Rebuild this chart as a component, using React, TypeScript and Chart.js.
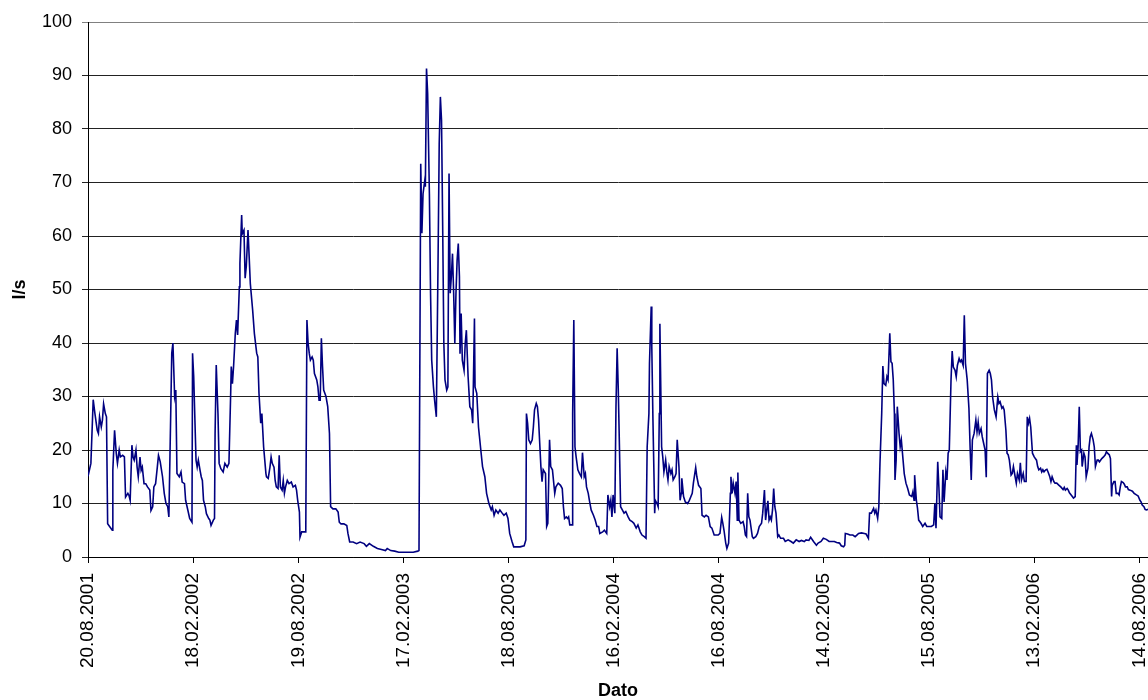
import React, { useEffect, useRef } from "react";
import { Chart, registerables } from "chart.js";

Chart.register(...registerables);

// days counted from 20.08.2001, flow in l/s
const readings: [number, number][] = [
  [0, 15.1], [5, 17.5], [9, 29.4], [12, 26.8], [16, 23.7], [18, 23.1], [20, 26.2], [23, 24.3], [25, 25.6], [27, 28.6],
  [30, 26.8], [32, 26.2], [34, 6.2], [38, 5.6], [42, 5.0], [43, 16.2], [46, 23.7], [49, 19.3], [51, 17.5], [54, 20.0],
  [56, 18.7], [60, 19.0], [63, 18.7], [65, 11.2], [69, 11.9], [71, 11.5], [73, 10.6], [76, 20.9], [78, 18.7], [80, 18.1],
  [83, 20.0], [85, 16.8], [87, 15.0], [90, 18.7], [92, 16.2], [94, 16.8], [97, 13.7], [100, 13.7], [103, 13.1], [107, 12.5],
  [109, 8.7], [112, 9.4], [114, 13.1], [117, 13.7], [120, 16.8], [122, 19.0], [125, 17.8], [129, 15.0], [132, 11.9], [135, 10.0],
  [138, 9.4], [140, 7.5], [143, 25.6], [145, 38.1], [147, 40.0], [150, 30.0], [152, 31.2], [154, 15.6], [158, 15.0], [161, 15.9],
  [163, 14.0], [167, 13.7], [169, 10.6], [173, 8.7], [176, 7.2], [180, 6.5], [181, 38.1], [183, 33.7], [187, 18.1], [189, 16.8],
  [191, 18.1], [194, 16.2], [196, 15.0], [198, 14.3], [200, 10.6], [203, 9.4], [205, 8.1], [209, 7.2], [211, 6.9], [213, 5.9],
  [217, 6.9], [219, 7.2], [220, 23.1], [222, 35.9], [225, 26.8], [227, 17.5], [230, 16.5], [234, 15.9], [237, 17.5], [241, 16.8],
  [244, 17.5], [247, 30.6], [248, 35.6], [250, 32.4], [252, 35.6], [255, 41.8], [257, 44.3], [259, 41.5], [262, 50.5], [263, 54.9],
  [266, 63.9], [267, 60.4], [270, 61.1], [272, 52.1], [274, 54.3], [277, 61.1], [279, 56.1], [281, 51.1], [285, 46.2], [288, 41.8],
  [292, 38.1], [294, 37.4], [296, 30.6], [299, 25.0], [301, 26.8], [304, 20.6], [308, 15.6],
  [309, 15.0], [312, 14.7], [315, 16.8], [317, 18.7], [319, 17.5], [322, 16.8], [324, 14.3], [326, 13.1], [329, 12.8], [331, 19.0],
  [333, 13.1], [336, 12.5], [338, 14.3], [340, 11.9], [342, 13.1], [345, 14.3], [348, 13.7], [352, 14.0], [355, 13.1], [359, 13.4],
  [361, 12.5], [363, 10.6], [366, 8.4], [367, 3.7], [370, 4.7], [374, 4.7], [377, 4.7], [379, 44.3], [381, 40.0], [383, 38.1],
  [385, 36.8], [388, 37.4], [390, 36.8], [392, 34.3], [396, 33.1], [398, 31.8], [400, 29.3], [402, 29.3], [404, 40.9], [406, 35.6],
  [408, 31.2], [412, 30.0], [415, 28.1], [418, 23.1], [420, 9.4], [424, 9.0], [429, 9.0], [433, 8.4], [435, 6.5], [438, 6.2],
  [443, 6.2], [448, 5.9], [450, 4.4], [453, 2.8], [459, 2.8], [465, 2.5], [471, 2.8], [478, 2.5], [482, 2.0], [487, 2.5],
  [494, 2.0], [501, 1.6], [508, 1.4], [515, 1.2], [518, 1.6], [524, 1.2], [531, 1.1], [538, 0.9], [546, 0.9], [554, 0.9],
  [563, 0.9], [571, 1.1],
  [573, 1.2], [576, 73.5], [578, 60.5], [580, 67.9], [583, 70.4], [584, 69.2], [586, 91.3], [588, 86.6], [591, 67.9], [593, 49.3],
  [595, 36.8], [598, 31.8], [600, 29.3], [603, 26.2], [606, 55.5], [608, 77.3], [610, 86.0], [612, 81.6], [614, 61.7], [616, 39.9],
  [618, 33.1], [621, 31.2], [623, 31.8], [625, 71.7], [627, 49.3], [629, 52.4], [631, 56.7], [633, 49.3], [635, 39.9], [637, 49.3],
  [639, 55.5], [641, 58.6], [643, 52.4], [644, 38.0], [646, 45.5], [648, 36.8], [651, 34.9], [653, 39.9], [655, 42.4], [658, 33.7],
  [661, 28.1], [664, 27.5], [666, 25.0], [669, 44.6], [670, 31.8], [673, 30.6], [676, 24.3], [680, 20.0], [683, 16.9], [687, 15.0],
  [690, 11.9], [694, 10.0], [696, 9.4], [698, 8.8], [700, 9.4], [703, 7.8], [706, 8.8], [710, 8.2], [713, 8.8], [717, 8.2],
  [720, 7.8], [724, 8.2], [727, 7.2], [730, 4.4], [734, 2.9], [737, 1.9], [742, 1.9], [748, 1.9], [755, 2.1], [758, 3.2],
  [759, 26.8], [761, 25.0], [763, 21.9], [766, 21.2], [769, 21.9], [771, 24.3], [773, 27.5], [776, 28.7], [778, 28.1], [780, 25.6],
  [784, 16.9], [786, 14.1], [788, 16.3], [792, 15.6], [794, 5.7], [796, 6.3], [799, 21.9], [801, 16.9], [804, 16.3], [808, 11.9],
  [810, 13.1], [814, 13.8], [818, 13.4], [821, 12.8], [823, 9.4], [825, 7.2], [828, 7.5], [830, 7.2], [832, 7.5], [834, 6.0],
  [838, 6.0], [839, 26.8], [841, 44.3], [843, 20.6], [845, 18.7], [848, 16.3], [851, 15.6], [854, 15.0], [856, 19.5], [859, 15.0],
  [861, 15.6], [863, 13.1], [866, 11.9], [868, 10.6], [871, 8.8], [875, 7.8], [878, 6.9], [881, 5.7], [884, 5.7], [886, 4.4],
  [891, 4.7], [894, 5.0], [898, 4.4], [900, 11.6], [903, 9.4], [905, 10.6], [907, 7.5], [909, 11.6], [912, 8.2], [914, 28.1],
  [916, 39.0], [918, 31.2], [920, 20.6], [922, 9.4], [925, 8.8], [928, 8.2], [931, 8.5], [935, 7.5], [938, 6.9], [942, 6.6],
  [945, 6.3], [949, 5.4], [952, 6.0], [956, 4.7], [959, 4.1], [963, 3.8], [966, 3.5], [968, 20.6], [971, 26.8], [972, 36.2],
  [975, 46.8], [976, 39.3], [978, 25.6], [981, 8.2], [982, 10.6], [985, 10.0], [987, 9.4], [989, 26.8], [990, 43.6], [993, 20.6],
  [995, 18.7], [997, 15.9], [1000, 18.1], [1002, 15.9], [1004, 14.4], [1006, 16.9], [1009, 15.6], [1011, 16.3], [1013, 14.4], [1016, 15.0],
  [1018, 15.6], [1020, 21.9], [1023, 16.9], [1025, 10.6], [1027, 11.9], [1028, 14.7], [1031, 11.3], [1034, 10.3], [1038, 10.0], [1041, 10.6],
  [1046, 11.9], [1048, 13.8], [1052, 16.7], [1054, 15.0], [1057, 13.4], [1061, 12.8], [1063, 7.8], [1067, 7.5], [1070, 7.8], [1074, 7.5],
  [1077, 5.7], [1080, 5.4], [1084, 4.1], [1087, 4.1], [1091, 4.1], [1094, 4.4], [1097, 7.4], [1099, 6.3], [1101, 5.0], [1104, 2.6],
  [1106, 1.6], [1109, 2.6], [1112, 11.9], [1113, 15.0], [1115, 11.9], [1117, 13.8], [1120, 11.9], [1122, 14.1], [1124, 6.9], [1125, 15.8],
  [1127, 6.9], [1130, 6.3], [1134, 6.6], [1136, 5.7], [1138, 4.1], [1140, 3.8], [1142, 11.9], [1144, 7.5], [1146, 6.9], [1150, 3.8],
  [1152, 3.5], [1156, 3.8], [1159, 4.4], [1162, 5.7], [1166, 6.3], [1168, 8.2], [1171, 12.5], [1173, 6.9], [1175, 8.8], [1177, 10.5],
  [1179, 6.9], [1181, 7.5], [1183, 6.9], [1185, 8.8], [1187, 12.8], [1189, 9.4], [1191, 8.2], [1194, 3.8], [1196, 4.1], [1199, 3.5],
  [1204, 3.5], [1207, 2.9], [1212, 3.2], [1217, 2.9], [1221, 2.6], [1226, 3.2], [1231, 2.9], [1235, 3.1], [1240, 2.9], [1243, 3.2],
  [1248, 3.1], [1251, 3.7], [1256, 2.9], [1261, 2.2], [1264, 2.6], [1269, 2.9], [1273, 3.5], [1278, 3.3], [1283, 2.9], [1287, 2.9],
  [1292, 2.9], [1296, 2.7], [1301, 2.6], [1304, 2.1], [1308, 1.9], [1310, 2.2],
  [1311, 4.4], [1315, 4.3], [1319, 4.1], [1324, 4.1], [1328, 3.8], [1331, 4.1], [1334, 4.4], [1339, 4.5], [1344, 4.4], [1347, 4.3],
  [1351, 3.5], [1353, 8.2], [1356, 8.2], [1360, 9.1], [1362, 8.2], [1364, 8.8], [1367, 7.2], [1369, 9.4], [1371, 17.5], [1374, 26.8],
  [1376, 35.7], [1378, 32.4], [1381, 32.1], [1383, 33.7], [1385, 33.1], [1388, 41.8], [1390, 36.5], [1392, 36.2], [1394, 33.1], [1396, 26.8],
  [1397, 14.4], [1399, 18.1], [1401, 28.1], [1404, 23.1], [1406, 20.6], [1408, 21.9], [1411, 18.1], [1413, 15.6], [1416, 13.8], [1419, 12.8],
  [1422, 11.6], [1426, 11.3], [1428, 12.2], [1430, 10.6], [1431, 15.3], [1434, 10.6], [1436, 9.1], [1438, 6.9], [1442, 6.3], [1445, 5.7],
  [1449, 6.3], [1452, 5.7], [1457, 5.7], [1460, 5.7], [1464, 6.0], [1466, 10.0], [1468, 5.4], [1471, 17.8], [1473, 13.1], [1475, 7.5],
  [1478, 7.2], [1480, 16.3], [1482, 10.3], [1485, 15.9], [1487, 14.4], [1489, 19.4], [1491, 20.0], [1494, 33.1], [1496, 38.5], [1498, 35.5],
  [1501, 34.9], [1503, 33.7], [1505, 35.8], [1508, 37.1], [1510, 36.5], [1512, 36.8], [1515, 35.8], [1517, 45.2], [1519, 36.2], [1522, 33.1],
  [1525, 27.8], [1527, 20.6], [1529, 14.4], [1531, 21.9], [1534, 23.1], [1537, 25.6], [1539, 23.4], [1541, 25.2], [1543, 23.1], [1546, 24.0],
  [1548, 22.5], [1550, 21.5], [1553, 20.0], [1555, 14.9], [1557, 34.3], [1560, 34.9], [1562, 34.3], [1564, 33.1], [1566, 29.9], [1569, 27.5],
  [1572, 26.2], [1575, 29.9], [1577, 28.7], [1579, 29.0], [1582, 27.8], [1584, 28.1], [1586, 27.5], [1589, 23.7], [1591, 19.4], [1593, 19.1],
  [1595, 18.1], [1598, 15.3], [1600, 15.6], [1602, 16.9], [1605, 15.0], [1607, 13.8], [1609, 15.6], [1612, 14.4], [1614, 17.6], [1616, 14.4],
  [1619, 15.6], [1621, 14.1], [1624, 14.1], [1626, 26.2], [1628, 25.0], [1630, 25.9], [1632, 24.3], [1635, 19.4], [1638, 18.7], [1642, 18.1],
  [1644, 16.9], [1646, 16.3], [1649, 16.6], [1651, 15.9], [1653, 16.3], [1655, 15.9], [1658, 16.3], [1660, 16.4], [1662, 15.9], [1665, 15.0],
  [1667, 14.1], [1669, 15.0], [1672, 14.1], [1674, 13.8], [1677, 13.8], [1681, 13.4], [1684, 13.1], [1688, 12.6], [1690, 13.0], [1692, 12.5],
  [1695, 12.8], [1697, 12.5], [1699, 12.0], [1702, 11.6], [1704, 11.3], [1706, 11.0], [1709, 11.3], [1711, 20.9], [1712, 17.2], [1714, 20.6],
  [1716, 28.1], [1718, 19.7], [1720, 20.0], [1721, 16.9], [1724, 19.4], [1726, 18.7], [1728, 15.0], [1731, 16.6], [1733, 20.6], [1735, 22.5],
  [1737, 23.1], [1740, 21.9], [1742, 20.6], [1744, 16.9], [1747, 18.1], [1749, 18.1], [1751, 17.8], [1755, 18.4], [1758, 18.7], [1761, 19.1],
  [1763, 19.7], [1765, 19.4], [1768, 19.1], [1770, 18.4], [1772, 11.3], [1773, 13.4], [1776, 14.1], [1778, 14.1], [1780, 11.9], [1783, 11.9],
  [1785, 11.6], [1787, 13.1], [1789, 14.1], [1792, 13.9], [1794, 13.6], [1796, 13.1], [1799, 13.1], [1801, 12.6], [1804, 12.5], [1808, 12.3],
  [1811, 11.9], [1815, 11.6], [1818, 11.4], [1821, 10.6], [1823, 10.3], [1825, 9.7], [1828, 9.4], [1830, 8.9], [1832, 8.8], [1835, 8.9],
];

const tickDays = [0, 182, 364, 546, 728, 910, 1092, 1274, 1456, 1638, 1820];
const tickLabels = [
  "20.08.2001", "18.02.2002", "19.08.2002", "17.02.2003", "18.08.2003", "16.02.2004",
  "16.08.2004", "14.02.2005", "15.08.2005", "13.02.2006", "14.08.2006",
];

const App = () => {
  const canvasRef = useRef<HTMLCanvasElement>(null);

  useEffect(() => {
    if (!canvasRef.current) return;
    Chart.defaults.font.family = "'Liberation Sans', Arial, sans-serif";
    Chart.defaults.color = "#000";

    const chart = new Chart(canvasRef.current, {
      type: "line",
      data: {
        datasets: [
          {
            label: "l/s",
            data: readings.map(([x, y]) => ({ x, y })),
            borderColor: "#000080",
            borderWidth: 1.6,
            pointRadius: 0,
            tension: 0,
            fill: false,
          },
        ],
      },
      options: {
        animation: false,
        responsive: true,
        maintainAspectRatio: false,
        layout: { padding: { top: 22, left: 0, right: 0, bottom: 0 } },
        plugins: { legend: { display: false }, tooltip: { enabled: false } },
        scales: {
          x: {
            type: "linear",
            min: 0,
            max: 1835,
            afterBuildTicks: (s: any) => {
              s.ticks = tickDays.map((v) => ({ value: v }));
            },
            ticks: {
              autoSkip: false,
              minRotation: 90,
              maxRotation: 90,
              padding: 10,
              font: { size: 19 },
              callback: (v: any) => tickLabels[tickDays.indexOf(Number(v))] ?? "",
            },
            grid: { drawOnChartArea: false, drawTicks: true, tickLength: 6, color: "#000" },
            border: { color: "#000", width: 1 },
            title: {
              display: true,
              text: "Dato",
              font: { size: 18, weight: "bold", lineHeight: 1 },
              padding: { top: 0, bottom: 0 },
            },
            afterFit: (s: any) => {
              s.height = 143;
              s.paddingLeft = 0;
              s.paddingRight = 0;
            },
          },
          y: {
            min: 0,
            max: 100,
            ticks: { stepSize: 10, padding: 10, font: { size: 18 } },
            grid: {
              color: (c: any) => (c.tick && c.tick.value === 100 ? "#808080" : "#222"),
              lineWidth: 1,
              tickLength: 6,
            },
            border: { color: "#000", width: 1 },
            title: {
              display: true,
              text: "l/s",
              font: { size: 18, weight: "bold", lineHeight: 1 },
              padding: { top: 11, bottom: 0 },
            },
            afterFit: (s: any) => {
              s.width = 88;
              s.paddingTop = 0;
              s.paddingBottom = 0;
            },
          },
        },
      },
    });

    return () => chart.destroy();
  }, []);

  return (
    <div style={{ position: "absolute", left: 0, top: 0, width: 1148, height: 700, background: "#fff" }}>
      <canvas ref={canvasRef} />
    </div>
  );
};

export default App;
